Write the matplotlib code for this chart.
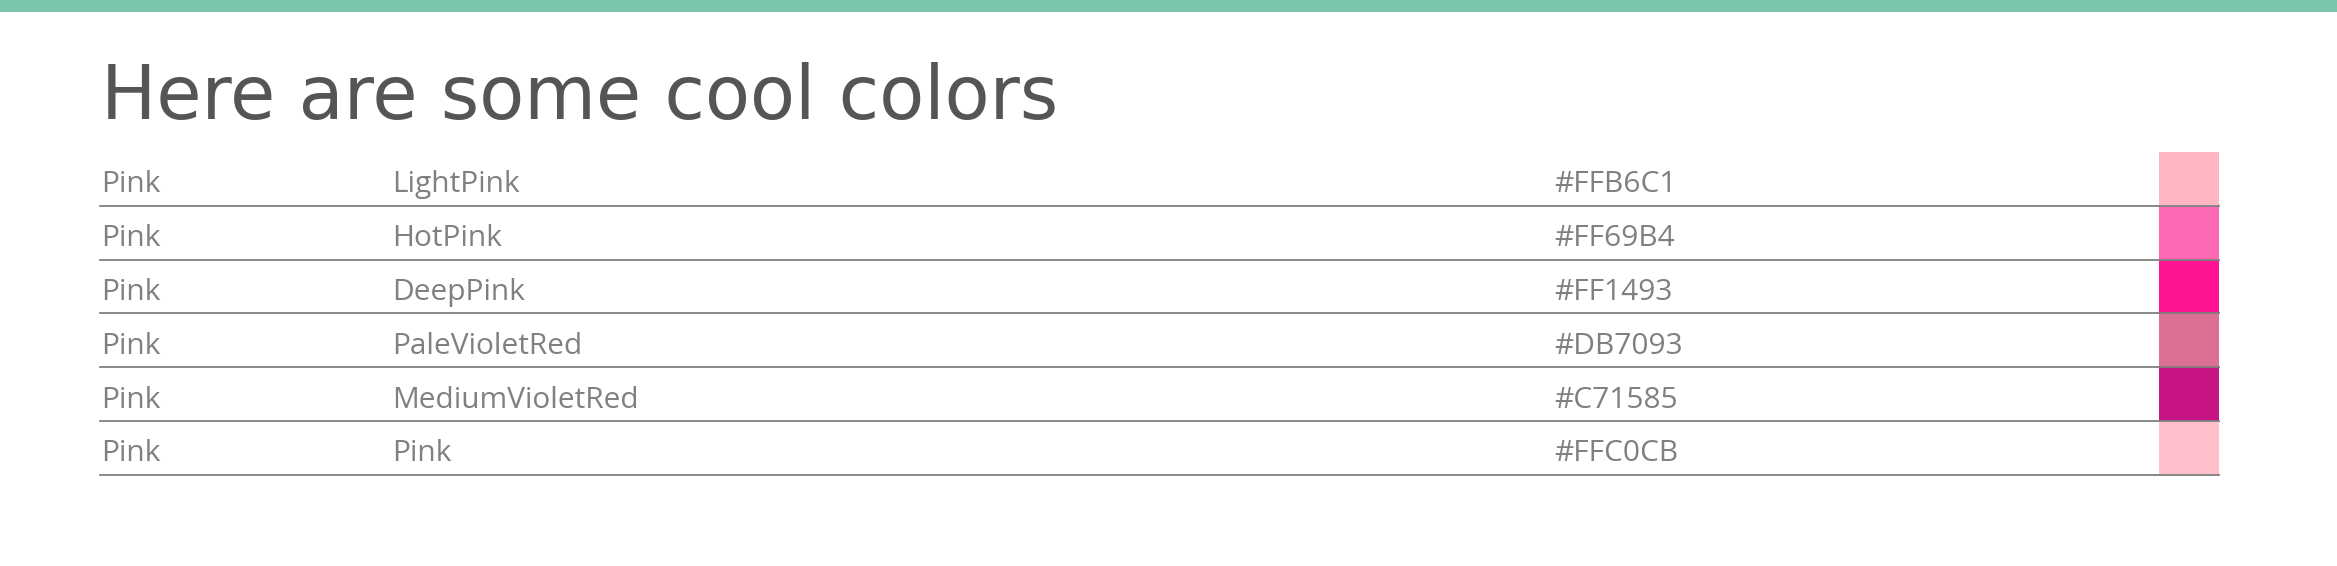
import matplotlib.pyplot as plt
from matplotlib.patches import Rectangle

# --- data ---
groups = ["Pink", "Pink", "Pink", "Pink", "Pink", "Pink"]
names = ["LightPink", "HotPink", "DeepPink", "PaleVioletRed", "MediumVioletRed", "Pink"]
hexes = ["#FFB6C1", "#FF69B4", "#FF1493", "#DB7093", "#C71585", "#FFC0CB"]

W, H = 2337, 566
fig = plt.figure(figsize=(W / 100, H / 100), dpi=100)
ax = fig.add_axes([0, 0, 1, 1])
ax.set_xlim(0, W)
ax.set_ylim(H, 0)
ax.axis("off")

# top accent bar
ax.add_patch(Rectangle((0, 0), W, 12, color="#7AC5AD", lw=0))

ax.text(101, 119, "Here are some cool colors", fontsize=53, color="#555555",
        family=["DejaVu Sans"], va="baseline")

top, row_h = 152, 53.8
left, right = 100, 2219
sw_x, sw_w = 2159, 60
txt = dict(fontsize=21.5, color="#808080", family=["Open Sans", "DejaVu Sans"], va="center")

for i, (g, n, h) in enumerate(zip(groups, names, hexes)):
    y0 = top + i * row_h
    yc = y0 + row_h / 2 + 6
    ax.text(101, yc, g, **txt)
    ax.text(392, yc, n, **txt)
    ax.text(1554, yc, h, **txt)
    ax.add_patch(Rectangle((sw_x, y0), sw_w, row_h, color=h, lw=0))
    ax.plot([left, right], [y0 + row_h, y0 + row_h], color="#808080", lw=1.3)

fig.savefig("out.png", dpi=100, facecolor="white")
